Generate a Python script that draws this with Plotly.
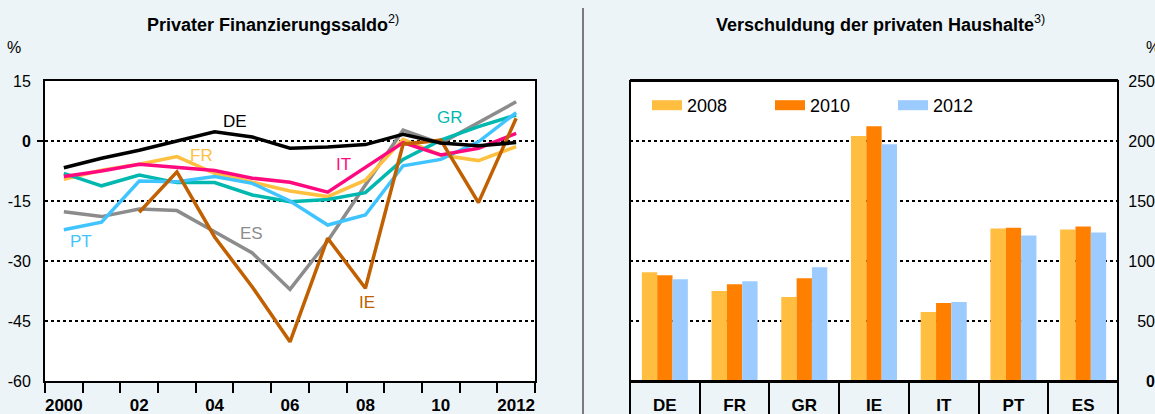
import plotly.graph_objects as go

# ---------------- data ----------------
years = ['2000', '2001', '2002', '2003', '2004', '2005', '2006',
         '2007', '2008', '2009', '2010', '2011', '2012']
year_ticktext = ['2000', '', '02', '', '04', '', '06', '', '08', '', '10', '', '2012']

de = [-6.7, -4.3, -2.3, 0.0, 2.3, 1.0, -1.8, -1.5, -0.9, 1.7, -0.5, -1.2, -0.4]
fr = [-9.6, -7.3, -5.8, -3.9, -8.1, -10.4, -12.5, -13.9, -9.8, 0.4, -3.5, -4.9, -1.4]
it = [-8.9, -7.5, -5.8, -6.6, -7.4, -9.3, -10.3, -12.8, -6.6, -0.4, -3.5, -1.8, 1.9]
gr = [-8.1, -11.2, -8.5, -10.4, -10.4, -13.5, -15.2, -14.6, -12.9, -4.6, 0.2, 3.6, 6.5]
pt = [-22.2, -20.3, -10.0, -10.2, -8.9, -10.6, -15.0, -21.0, -18.5, -6.2, -4.6, -0.2, 7.1]
es = [-17.7, -18.9, -17.0, -17.4, -22.7, -28.0, -37.1, -25.0, -11.0, 2.7, -0.6, 4.6, 9.8]
ie = [None, None, -17.8, -7.7, -24.0, -36.5, -50.2, -24.3, -36.8, -0.8, 0.2, -15.4, 5.7]

left_yticks = [15, 0, -15, -30, -45, -60]
left_yticktext = ['15', '<b>0</b>', '-15', '-30', '-45', '-60']

countries = ['DE', 'FR', 'GR', 'IE', 'IT', 'PT', 'ES']
debt_2008 = [90.6, 74.9, 70.0, 204.1, 57.6, 127.0, 126.2]
debt_2010 = [88.2, 80.7, 85.7, 212.3, 65.0, 127.8, 128.7]
debt_2012 = [84.8, 83.2, 94.8, 197.3, 65.8, 121.2, 123.7]
right_yticks = [0, 50, 100, 150, 200, 250]
right_yticktext = ['<b>0</b>', '50', '100', '150', '200', '250']

# ---------------- styles ----------------
W, H = 1155, 414
BG = '#ECF4F7'
FONT = 'Liberation Sans, Arial, sans-serif'

def px_x(p):
    return p / W

def px_y(p):
    return 1 - p / H

ydom = [px_y(381), px_y(81)]
xdom_l = [px_x(45), px_x(535)]
xdom_r = [px_x(630), px_x(1118)]

line_series = [
    ('ES', es, '#8C8C8C'),
    ('FR', fr, '#FFC040'),
    ('GR', gr, '#00B8B0'),
    ('PT', pt, '#40C4FF'),
    ('IT', it, '#FF0A7E'),
    ('IE', ie, '#C06000'),
    ('DE', de, '#000000'),
]
label_pos = {
    'DE': (4.55, 4.8), 'FR': (3.64, -3.5), 'IT': (7.42, -5.75),
    'GR': (10.25, 5.9), 'PT': (0.46, -25.2), 'ES': (4.98, -23.1),
    'IE': (8.04, -40.25),
}

fig = go.Figure()

for name, vals, col in line_series:
    fig.add_trace(go.Scatter(x=years, y=vals, mode='lines', name=name,
                             line=dict(color=col, width=3.5),
                             connectgaps=False, showlegend=False,
                             xaxis='x', yaxis='y'))

bar_series = [('2008', debt_2008, '#FFBE40'),
              ('2010', debt_2010, '#FF8000'),
              ('2012', debt_2012, '#9CCBFF')]
for name, vals, col in bar_series:
    fig.add_trace(go.Bar(x=countries, y=vals, name=name, marker_color=col,
                         marker_line_width=0, showlegend=False,
                         xaxis='x2', yaxis='y2'))
    # legend swatch (wide rectangle)
    fig.add_trace(go.Scatter(x=[None], y=[None], mode='lines', name=name,
                             line=dict(color=col, width=12),
                             xaxis='x2', yaxis='y2'))

# invisible helper so the category-separator axis is drawn
fig.add_trace(go.Scatter(x=[-0.5, len(countries) - 0.5], y=[0, 0], mode='markers',
                         marker=dict(opacity=0, size=1), showlegend=False,
                         hoverinfo='skip', xaxis='x4', yaxis='y2'))

tickfont = dict(family=FONT, size=16, color='#000')
boldfont = dict(family=FONT, size=17, color='#000')

fig.update_layout(
    width=W, height=H,
    margin=dict(l=0, r=0, t=0, b=0, autoexpand=False),
    paper_bgcolor=BG, plot_bgcolor='white',
    font=dict(family=FONT, color='#000'),
    barmode='group', bargap=0.34, bargroupgap=0,
    showlegend=True,
    legend=dict(orientation='h', x=px_x(647), xanchor='left',
                y=px_y(87), yanchor='top', bgcolor='rgba(0,0,0,0)',
                font=dict(family=FONT, size=18, color='#000'),
                entrywidth=78, entrywidthmode='pixels', itemwidth=30,
                traceorder='normal'),
    xaxis=dict(domain=xdom_l, anchor='y', type='category',
               categoryorder='array', categoryarray=years,
               tickvals=years, ticktext=['<b>%s</b>' % t if t else '' for t in year_ticktext],
               tickson='boundaries', ticks='outside', ticklen=10, tickwidth=2,
               ticklabelstandoff=8,
               tickcolor='#000', tickfont=boldfont, tickangle=0, automargin=False,
               showline=True, linecolor='#000', linewidth=2, mirror=True,
               showgrid=False, zeroline=False, range=[-0.5, 12.5]),
    yaxis=dict(domain=ydom, anchor='x', range=[-60, 15],
               tickvals=left_yticks, ticktext=left_yticktext,
               ticks='outside', ticklen=9, tickcolor='rgba(0,0,0,0)',
               tickfont=tickfont, automargin=False,
               showline=True, linecolor='#000', linewidth=2, mirror=True,
               showgrid=True, gridcolor='#000', gridwidth=2, griddash='dot',
               zeroline=False),
    xaxis2=dict(domain=xdom_r, anchor='y2', type='category',
                categoryorder='array', categoryarray=countries,
                tickvals=countries, ticktext=['<b>%s</b>' % c for c in countries],
                ticks='outside', ticklen=8, tickcolor='rgba(0,0,0,0)',
                tickfont=boldfont, tickangle=0, automargin=False,
                showline=True, linecolor='#000', linewidth=2, mirror=True,
                showgrid=False, zeroline=False, range=[-0.5, 6.5]),
    xaxis4=dict(domain=xdom_r, anchor='y2', overlaying='x2', range=[-0.5, 6.5],
                tickvals=[i - 0.5 for i in range(len(countries) + 1)],
                ticks='outside', ticklen=45, tickwidth=2, tickcolor='#000',
                showticklabels=False, showgrid=False, zeroline=False,
                showline=False, fixedrange=True, automargin=False),
    yaxis2=dict(domain=ydom, anchor='free', position=1.0, side='left',
                range=[0, 250],
                tickvals=right_yticks, ticktext=right_yticktext,
                ticks='', tickfont=tickfont, automargin=False,
                showline=False,
                showgrid=True, gridcolor='#000', gridwidth=2, griddash='dot',
                zeroline=False),
)

# frame of the right panel
fig.add_shape(type='rect', xref='x2 domain', yref='y2 domain',
              x0=0, x1=1, y0=0, y1=1, line=dict(color='#000', width=2),
              fillcolor='rgba(0,0,0,0)', layer='above')

# line labels
for name, vals, col in line_series:
    lx, ly = label_pos[name]
    fig.add_annotation(x=lx, y=ly, xref='x', yref='y', text=name,
                       showarrow=False, font=dict(family=FONT, size=17, color=col))

# titles and units
fig.add_annotation(x=px_x(273), y=px_y(23), xref='paper', yref='paper',
                   xanchor='center', yanchor='middle',
                   text='<b>Privater Finanzierungssaldo</b><sup>2)</sup>',
                   showarrow=False, font=dict(family=FONT, size=18, color='#000'))
fig.add_annotation(x=px_x(880), y=px_y(23), xref='paper', yref='paper',
                   xanchor='center', yanchor='middle',
                   text='<b>Verschuldung der privaten Haushalte</b><sup>3)</sup>',
                   showarrow=False, font=dict(family=FONT, size=18, color='#000'))
fig.add_annotation(x=px_x(14), y=px_y(48), xref='paper', yref='paper', text='%',
                   xanchor='center', yanchor='middle',
                   showarrow=False, font=dict(family=FONT, size=16, color='#000'))
fig.add_annotation(x=px_x(1144), y=px_y(47), xref='paper', yref='paper', text='%',
                   xanchor='left', yanchor='middle', showarrow=False,
                   font=dict(family=FONT, size=16, color='#000'))

# divider between panels and zero tick mark
fig.add_shape(type='line', xref='paper', yref='paper',
              x0=px_x(583), x1=px_x(583), y0=0, y1=px_y(8),
              line=dict(color='#555', width=1.5))
fig.add_shape(type='line', xref='paper', yref='y',
              x0=px_x(37), x1=px_x(45), y0=0, y1=0,
              line=dict(color='#000', width=2))

fig.write_html('out.html', config={'displayModeBar': False},
               post_script="document.body.style.margin='0';document.body.style.overflow='hidden';")
